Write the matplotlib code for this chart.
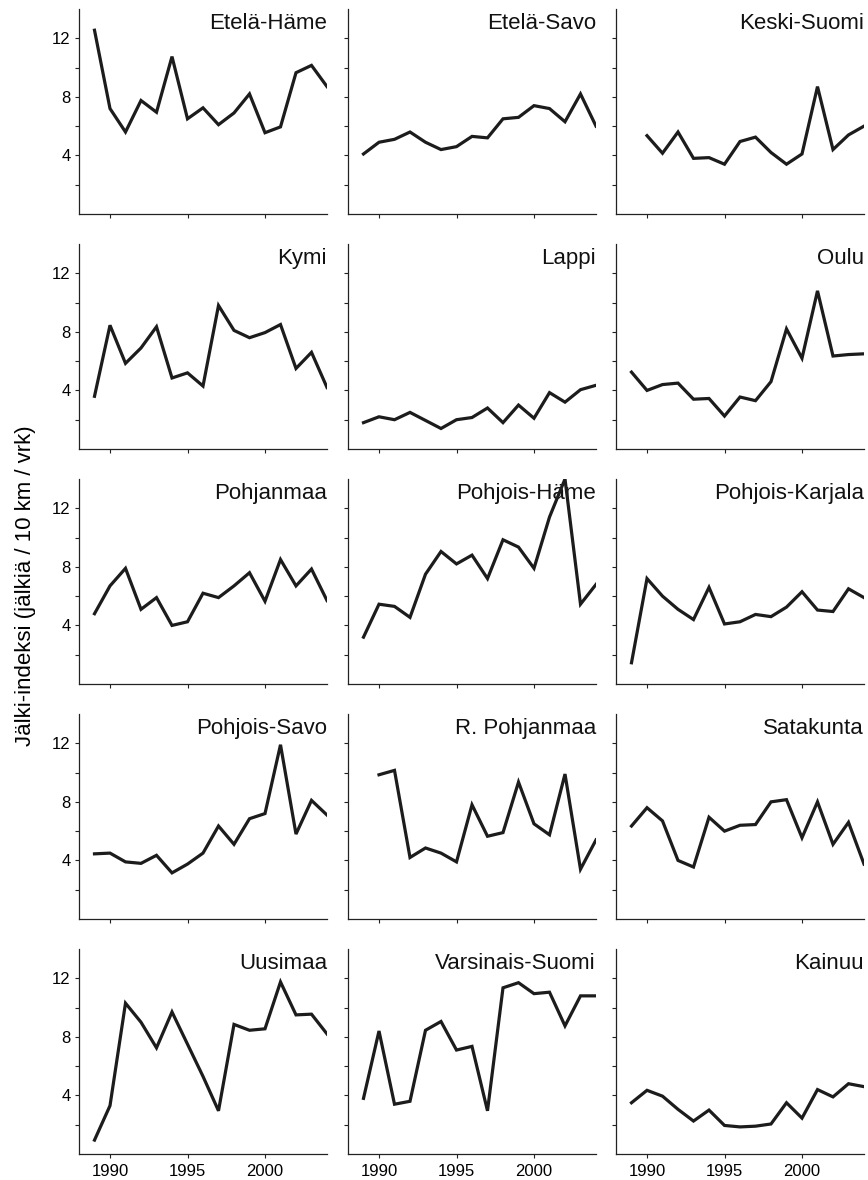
import numpy as np
import matplotlib
matplotlib.use("Agg")
import matplotlib.pyplot as plt

plt.rcParams['font.family'] = ['Liberation Sans', 'DejaVu Sans']

# years 1989..2004, nan = no data
years = [1989, 1990, 1991, 1992, 1993, 1994, 1995, 1996,
         1997, 1998, 1999, 2000, 2001, 2002, 2003, 2004]

nan = np.nan
etela_hame = [12.55, 7.2, 5.6, 7.75, 6.95, 10.75, 6.5, 7.25, 6.1, 6.9, 8.2, 5.55, 5.95, 9.65, 10.15, 8.7]
etela_savo = [4.1, 4.9, 5.1, 5.6, 4.9, 4.4, 4.6, 5.3, 5.2, 6.5, 6.6, 7.4, 7.2, 6.3, 8.2, 6.0]
keski_suomi = [nan, 5.35, 4.15, 5.6, 3.8, 3.85, 3.4, 4.95, 5.25, 4.2, 3.4, 4.1, 8.7, 4.4, 5.4, 6.0]
kymi = [3.6, 8.45, 5.85, 6.9, 8.35, 4.85, 5.2, 4.3, 9.8, 8.1, 7.6, 7.95, 8.5, 5.5, 6.6, 4.2]
lappi = [1.8, 2.2, 2.0, 2.5, 1.95, 1.4, 2.0, 2.15, 2.8, 1.8, 3.0, 2.1, 3.85, 3.2, 4.05, 4.35]
oulu = [5.25, 4.0, 4.4, 4.5, 3.4, 3.45, 2.25, 3.55, 3.3, 4.6, 8.2, 6.2, 10.8, 6.35, 6.45, 6.5]
pohjanmaa = [4.8, 6.7, 7.9, 5.1, 5.9, 4.0, 4.25, 6.2, 5.9, 6.7, 7.6, 5.65, 8.5, 6.7, 7.85, 5.7]
pohjois_hame = [3.2, 5.45, 5.3, 4.55, 7.5, 9.05, 8.2, 8.8, 7.2, 9.85, 9.35, 7.9, 11.4, 14.0, 5.45, 6.8]
pohjois_karjala = [1.45, 7.2, 6.0, 5.1, 4.4, 6.6, 4.1, 4.25, 4.75, 4.6, 5.25, 6.3, 5.05, 4.95, 6.5, 5.9]
pohjois_savo = [4.45, 4.5, 3.9, 3.8, 4.35, 3.15, 3.75, 4.5, 6.35, 5.1, 6.85, 7.2, 11.9, 5.8, 8.1, 7.1]
r_pohjanmaa = [nan, 9.85, 10.15, 4.2, 4.85, 4.5, 3.9, 7.8, 5.65, 5.9, 9.35, 6.5, 5.75, 9.9, 3.4, 5.4]
satakunta = [6.35, 7.6, 6.7, 4.0, 3.55, 6.95, 6.0, 6.4, 6.45, 8.0, 8.15, 5.55, 8.0, 5.1, 6.6, 3.75]
uusimaa = [0.95, 3.3, 10.3, 9.0, 7.25, 9.7, 7.5, 5.3, 2.95, 8.85, 8.45, 8.55, 11.75, 9.5, 9.55, 8.2]
varsinais_suomi = [3.8, 8.4, 3.4, 3.6, 8.45, 9.05, 7.1, 7.35, 2.95, 11.35, 11.7, 10.95, 11.05, 8.75, 10.8, 10.8]
kainuu = [3.5, 4.35, 3.95, 3.05, 2.25, 3.0, 1.95, 1.85, 1.9, 2.05, 3.5, 2.45, 4.4, 3.9, 4.8, 4.6]

names = ["Etelä-Häme", "Etelä-Savo", "Keski-Suomi",
         "Kymi", "Lappi", "Oulu",
         "Pohjanmaa", "Pohjois-Häme", "Pohjois-Karjala",
         "Pohjois-Savo", "R. Pohjanmaa", "Satakunta",
         "Uusimaa", "Varsinais-Suomi", "Kainuu"]
series = [etela_hame, etela_savo, keski_suomi,
          kymi, lappi, oulu,
          pohjanmaa, pohjois_hame, pohjois_karjala,
          pohjois_savo, r_pohjanmaa, satakunta,
          uusimaa, varsinais_suomi, kainuu]

W, H = 868, 1180
fig = plt.figure(figsize=(W / 100, H / 100), dpi=100)

col_left = [79, 348, 616]
ax_w, ax_h = 248, 205
row_top0, row_step = 9, 235

for i, (name, vals) in enumerate(zip(names, series)):
    r, c = divmod(i, 3)
    top = row_top0 + r * row_step
    ax = fig.add_axes([col_left[c] / W, 1 - (top + ax_h) / H, ax_w / W, ax_h / H])
    ax.plot(years, vals, color='#1c1c1c', lw=2.3, solid_joinstyle='miter', zorder=3)
    ax.set_xlim(1988, 2004)
    ax.set_ylim(0, 14)
    ax.set_yticks([2, 4, 6, 8, 10, 12])
    ax.set_yticklabels(['', '4', '', '8', '', '12'] if c == 0 else [''] * 6)
    ax.set_xticks([1990, 1995, 2000])
    ax.set_xticklabels(['1990', '1995', '2000'] if r == 4 else [''] * 3)
    for s in ['top', 'right']:
        ax.spines[s].set_visible(False)
    for s in ['left', 'bottom']:
        ax.spines[s].set_linewidth(0.9)
        ax.spines[s].set_color('#222222')
    ax.tick_params(axis='both', direction='out', length=3, width=0.8,
                   labelsize=12, color='#222222')
    ax.tick_params(axis='y', pad=3)
    ax.tick_params(axis='x', pad=4)
    ax.text(1.0, 1 - 20 / ax_h, name, transform=ax.transAxes, ha='right',
            va='baseline', fontsize=16, color='#111111', zorder=2)

fig.text(26 / W, 1 - 586 / H, "Jälki-indeksi (jälkiä / 10 km / vrk)",
         rotation=90, ha='center', va='center', fontsize=16)

fig.savefig("out.png", dpi=100)
